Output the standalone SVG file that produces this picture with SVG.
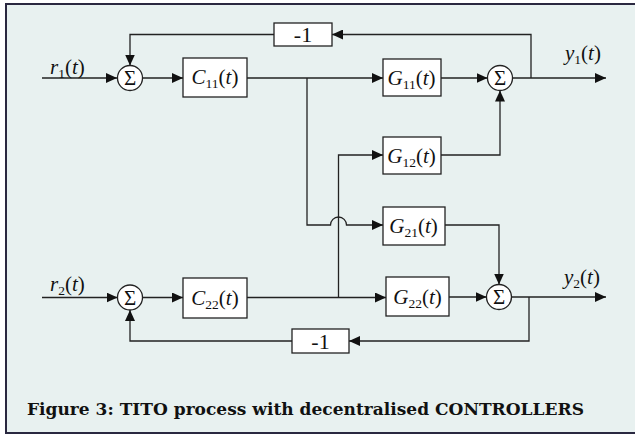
<svg xmlns="http://www.w3.org/2000/svg" width="635" height="435" viewBox="0 0 635 435">
<style>
.blk{fill:#fff;stroke:#222;stroke-width:1.3}
.sum{fill:#fff;stroke:#222;stroke-width:1.3}
.m{font-family:"Liberation Serif","Times New Roman",serif;font-size:21px;fill:#111}
.i{font-style:italic}
.s{font-size:13.5px}
.sg{font-family:"Liberation Serif","Times New Roman",serif;font-size:21px;fill:#111;text-anchor:middle}
.c{fill:none;stroke:#222;stroke-width:1.3}
.cap{font-family:"DejaVu Serif",serif;font-weight:bold;font-size:17px;fill:#111}
</style>
<defs>
<marker id="ah" markerUnits="userSpaceOnUse" markerWidth="12" markerHeight="10" refX="11" refY="5" orient="auto">
<path d="M0,0 L11,5 L0,10 Z" fill="#111"/>
</marker>
</defs>
<rect x="6" y="4" width="640" height="429" fill="#e8f1f0" stroke="#2a2840" stroke-width="2"/>
<g id="connectors">
<path class="c" d="M42,78 H117" marker-end="url(#ah)"/>
<path class="c" d="M142.5,78 H183" marker-end="url(#ah)"/>
<path class="c" d="M247,78 H383" marker-end="url(#ah)"/>
<path class="c" d="M441,78 H487.5" marker-end="url(#ah)"/>
<path class="c" d="M512.5,78 H606" marker-end="url(#ah)"/>
<path class="c" d="M531,78 V34.5 H332" marker-end="url(#ah)"/>
<path class="c" d="M274,34.5 H130 V65.5" marker-end="url(#ah)"/>
<path class="c" d="M307,78 V225 H330.5 A8,8 0 0 1 346.5,225 H383" marker-end="url(#ah)"/>
<path class="c" d="M338.5,297.5 V155 H383" marker-end="url(#ah)"/>
<path class="c" d="M441,155 H500 V90.5" marker-end="url(#ah)"/>
<path class="c" d="M445,225 H499 V284.5" marker-end="url(#ah)"/>
<path class="c" d="M42,297.5 H117.5" marker-end="url(#ah)"/>
<path class="c" d="M142.5,297.5 H183" marker-end="url(#ah)"/>
<path class="c" d="M247,297.5 H386" marker-end="url(#ah)"/>
<path class="c" d="M449,297 H486.5" marker-end="url(#ah)"/>
<path class="c" d="M511.5,297 H606" marker-end="url(#ah)"/>
<path class="c" d="M529,297 V341 H349" marker-end="url(#ah)"/>
<path class="c" d="M292,341 H130 V310" marker-end="url(#ah)"/>
</g>
<g id="r1"><text class="m" x="50" y="74"><tspan class="i">r</tspan><tspan class="s" dy="4">1</tspan><tspan dy="-4">(</tspan><tspan class="i">t</tspan>)</text></g>
<g id="r2"><text class="m" x="50" y="290.5"><tspan class="i">r</tspan><tspan class="s" dy="4">2</tspan><tspan dy="-4">(</tspan><tspan class="i">t</tspan>)</text></g>
<g id="y1"><text class="m" x="565" y="60"><tspan class="i">y</tspan><tspan class="s" dy="4">1</tspan><tspan dy="-4">(</tspan><tspan class="i">t</tspan>)</text></g>
<g id="y2"><text class="m" x="564" y="283.5"><tspan class="i">y</tspan><tspan class="s" dy="4">2</tspan><tspan dy="-4">(</tspan><tspan class="i">t</tspan>)</text></g>
<g id="sum1"><circle class="sum" cx="130" cy="78" r="12.5"/><text class="sg" x="130" y="85">Σ</text></g>
<g id="sum2"><circle class="sum" cx="130" cy="297.5" r="12.5"/><text class="sg" x="130" y="304.5">Σ</text></g>
<g id="sumY1"><circle class="sum" cx="500" cy="78" r="12.5"/><text class="sg" x="500" y="85">Σ</text></g>
<g id="sumY2"><circle class="sum" cx="499" cy="297" r="12.5"/><text class="sg" x="499" y="304">Σ</text></g>
<g id="C11"><rect class="blk" x="183" y="58" width="64" height="39"/><text class="m" x="215" y="84" text-anchor="middle"><tspan class="i">C</tspan><tspan class="s" dy="4">11</tspan><tspan dy="-4">(</tspan><tspan class="i">t</tspan>)</text></g>
<g id="C22"><rect class="blk" x="183" y="278" width="64" height="40"/><text class="m" x="215" y="304.5" text-anchor="middle"><tspan class="i">C</tspan><tspan class="s" dy="4">22</tspan><tspan dy="-4">(</tspan><tspan class="i">t</tspan>)</text></g>
<g id="G11"><rect class="blk" x="383" y="59" width="58" height="37"/><text class="m" x="411.5" y="84.5" text-anchor="middle"><tspan class="i">G</tspan><tspan class="s" dy="4">11</tspan><tspan dy="-4">(</tspan><tspan class="i">t</tspan>)</text></g>
<g id="G12"><rect class="blk" x="383" y="137" width="58" height="37"/><text class="m" x="411.5" y="162.5" text-anchor="middle"><tspan class="i">G</tspan><tspan class="s" dy="4">12</tspan><tspan dy="-4">(</tspan><tspan class="i">t</tspan>)</text></g>
<g id="G21"><rect class="blk" x="383" y="207" width="62" height="38"/><text class="m" x="413.5" y="232.5" text-anchor="middle"><tspan class="i">G</tspan><tspan class="s" dy="4">21</tspan><tspan dy="-4">(</tspan><tspan class="i">t</tspan>)</text></g>
<g id="G22"><rect class="blk" x="386" y="277" width="63" height="39"/><text class="m" x="417.5" y="303.5" text-anchor="middle"><tspan class="i">G</tspan><tspan class="s" dy="4">22</tspan><tspan dy="-4">(</tspan><tspan class="i">t</tspan>)</text></g>
<g id="fb1"><rect class="blk" x="274" y="23" width="58" height="23"/><text class="m" x="303" y="41.5" text-anchor="middle" style="font-size:22px">-1</text></g>
<g id="fb2"><rect class="blk" x="292" y="329" width="57" height="24"/><text class="m" x="320.5" y="348.5" text-anchor="middle" style="font-size:22px">-1</text></g>
<g id="caption"><text class="cap" x="27" y="415" textLength="557" lengthAdjust="spacingAndGlyphs">Figure 3: TITO process with decentralised CONTROLLERS</text></g>
</svg>
